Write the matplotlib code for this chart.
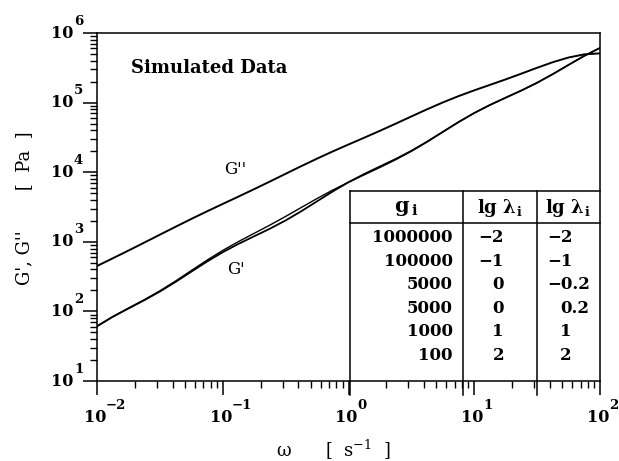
import numpy as np
import matplotlib
matplotlib.use('Agg')
import matplotlib.pyplot as plt
from matplotlib.transforms import offset_copy, blended_transform_factory
from matplotlib.ticker import LogLocator, NullFormatter

plt.rcParams['font.family'] = 'DejaVu Serif'
plt.rcParams['mathtext.fontset'] = 'dejavuserif'

# --- data ---
omega = [0.01, 0.01334, 0.01778, 0.02371, 0.03162, 0.04217, 0.05623, 0.07499,
         0.1, 0.1334, 0.1778, 0.2371, 0.3162, 0.4217, 0.5623, 0.7499,
         1.0, 1.334, 1.778, 2.371, 3.162, 4.217, 5.623, 7.499,
         10.0, 13.34, 17.78, 23.71, 31.62, 42.17, 56.23, 74.99, 100.0]
g_loss = [449, 579, 748, 972, 1265, 1645, 2130, 2739,
          3500, 4464, 5712, 7349, 9487, 12234, 15674, 19888,
          25000, 31310, 39336, 49776, 63247, 80167, 100511, 123893,
          150010, 179770, 215586, 260748, 316569, 380720, 444610, 493217, 510002]
g_stor_a = [61.0, 83.5, 110.1, 144.4, 192.9, 265.4, 372.1, 520.3,
            709, 934, 1201, 1543, 2028, 2752, 3818, 5297,
            7180, 9420, 12076, 15474, 20280, 27440, 37965, 52510,
            70902, 92523, 117699, 149224, 192910, 256750, 348227, 469281, 610109]
g_stor_b = [61.5, 84.3, 111.5, 146.9, 197.4, 273.4, 386.3, 545.2,
            752, 1008, 1324, 1739, 2314, 3116, 4188, 5540,
            7180, 9177, 11706, 15110, 19993, 27244, 37842, 52436,
            70859, 92498, 117685, 149216, 192905, 256747, 348225, 469280, 610109]

g_i = ['1000000', '100000', '5000', '5000', '1000', '100']
lg_lam_a = ['−2', '−1', '0', '0', '1', '2']
lg_lam_b = ['−2', '−1', '−0.2', '0.2', '1', '2']

x_dec = [-2, -1, 0, 1, 2]
y_dec = [1, 2, 3, 4, 5, 6]

# --- figure / axes (pixel layout of the scan) ---
W, H = 619, 461
L, R, T, B = 97, 600, 33, 381
fig = plt.figure(figsize=(W / 100, H / 100), dpi=100)
ax = fig.add_axes([L / W, (H - B) / H, (R - L) / W, (B - T) / H])

def axfrac(px, py):
    return (px - L) / (R - L), (B - py) / (B - T)

ax.set_xscale('log'); ax.set_yscale('log')
ax.set_xlim(1e-2, 1e2); ax.set_ylim(1e1, 1e6)

ax.plot(omega, g_loss, color='k', lw=1.4)
ax.plot(omega, g_stor_a, color='k', lw=1.3)
ax.plot(omega, g_stor_b, color='k', lw=1.0)

for s in ax.spines.values():
    s.set_linewidth(1.1)

ax.set_xticks([10.0 ** d for d in x_dec])
ax.set_yticks([10.0 ** d for d in y_dec])
ax.xaxis.set_minor_locator(LogLocator(base=10, subs=np.arange(2, 10), numticks=100))
ax.yaxis.set_minor_locator(LogLocator(base=10, subs=np.arange(2, 10), numticks=100))
ax.xaxis.set_minor_formatter(NullFormatter())
ax.yaxis.set_minor_formatter(NullFormatter())
ax.tick_params(which='major', direction='out', length=10, width=1.1,
               labelbottom=False, labelleft=False, top=False, right=False)
ax.tick_params(which='minor', direction='out', length=5, width=1.0, top=False, right=False)

# tick labels: "10" centred on the tick, exponent hanging to the right
bt = blended_transform_factory(ax.transData, ax.transAxes)
for d in x_dec:
    v = 10.0 ** d
    ax.text(v, 0, '10', transform=offset_copy(bt, x=-2, y=-36, units='dots'),
            ha='center', va='center', fontsize=11.5, weight='bold', clip_on=False)
    ax.text(v, 0, str(d).replace('-', '−'),
            transform=offset_copy(bt, x=9, y=-24, units='dots'),
            ha='left', va='center', fontsize=9.5, weight='bold', clip_on=False)
lt = blended_transform_factory(ax.transAxes, ax.transData)
for d in y_dec:
    v = 10.0 ** d
    ax.text(0, v, '10', transform=offset_copy(lt, x=-24, y=0, units='dots'),
            ha='right', va='center', fontsize=11.5, weight='bold', clip_on=False)
    ax.text(0, v, str(d), transform=offset_copy(lt, x=-23, y=12, units='dots'),
            ha='left', va='center', fontsize=9.5, weight='bold', clip_on=False)

fig.text(24 / W, 1 - 208 / H, "G', G''       [  Pa  ]", rotation=90,
         ha='center', va='center', fontsize=13)
fig.text(333 / W, 1 - 450 / H, 'ω      [  s$^{-1}$  ]',
         ha='center', va='center', fontsize=13)

ax.text(*axfrac(131, 68), 'Simulated Data', transform=ax.transAxes,
        ha='left', va='center', fontsize=13, weight='bold')
ax.text(*axfrac(235, 169), "G''", transform=ax.transAxes,
        ha='center', va='center', fontsize=12)
ax.text(*axfrac(236, 270), "G'", transform=ax.transAxes,
        ha='center', va='center', fontsize=12)

# --- parameter table in the lower right corner ---
x0, x1, x2 = 350, 463, 537
y_top, y_head, y_low = 191, 223, 395
for xv in (x0, x1, x2):
    fx, fy0 = axfrac(xv, y_top)
    _, fy1 = axfrac(xv, y_low)
    ax.plot([fx, fx], [fy0, fy1], color='k', lw=1.1, transform=ax.transAxes, clip_on=False)
for yv in (y_top, y_head):
    fxa, fy = axfrac(x0, yv)
    ax.plot([fxa, 1], [fy, fy], color='k', lw=1.1, transform=ax.transAxes, clip_on=False)

ax.text(*axfrac((x0 + x1) / 2, 208), r'$\mathbf{g}_{\,\mathbf{i}}$', transform=ax.transAxes,
        ha='center', va='center', fontsize=15)
for xc in ((x1 + x2) / 2, (x2 + R) / 2):
    ax.text(*axfrac(xc, 208), r'$\mathbf{lg\ λ}_{\,\mathbf{i}}$', transform=ax.transAxes,
            ha='center', va='center', fontsize=13)

for i in range(len(g_i)):
    yr = 238 + 23.4 * i
    ax.text(*axfrac(453, yr), g_i[i], transform=ax.transAxes,
            ha='right', va='center', fontsize=12, weight='bold')
    ax.text(*axfrac(504, yr), lg_lam_a[i], transform=ax.transAxes,
            ha='right', va='center', fontsize=12, weight='bold')
    xb = 547 if lg_lam_b[i].startswith('−') else 560
    ax.text(*axfrac(xb, yr), lg_lam_b[i], transform=ax.transAxes,
            ha='left', va='center', fontsize=12, weight='bold')

fig.savefig('out.png', dpi=100)
